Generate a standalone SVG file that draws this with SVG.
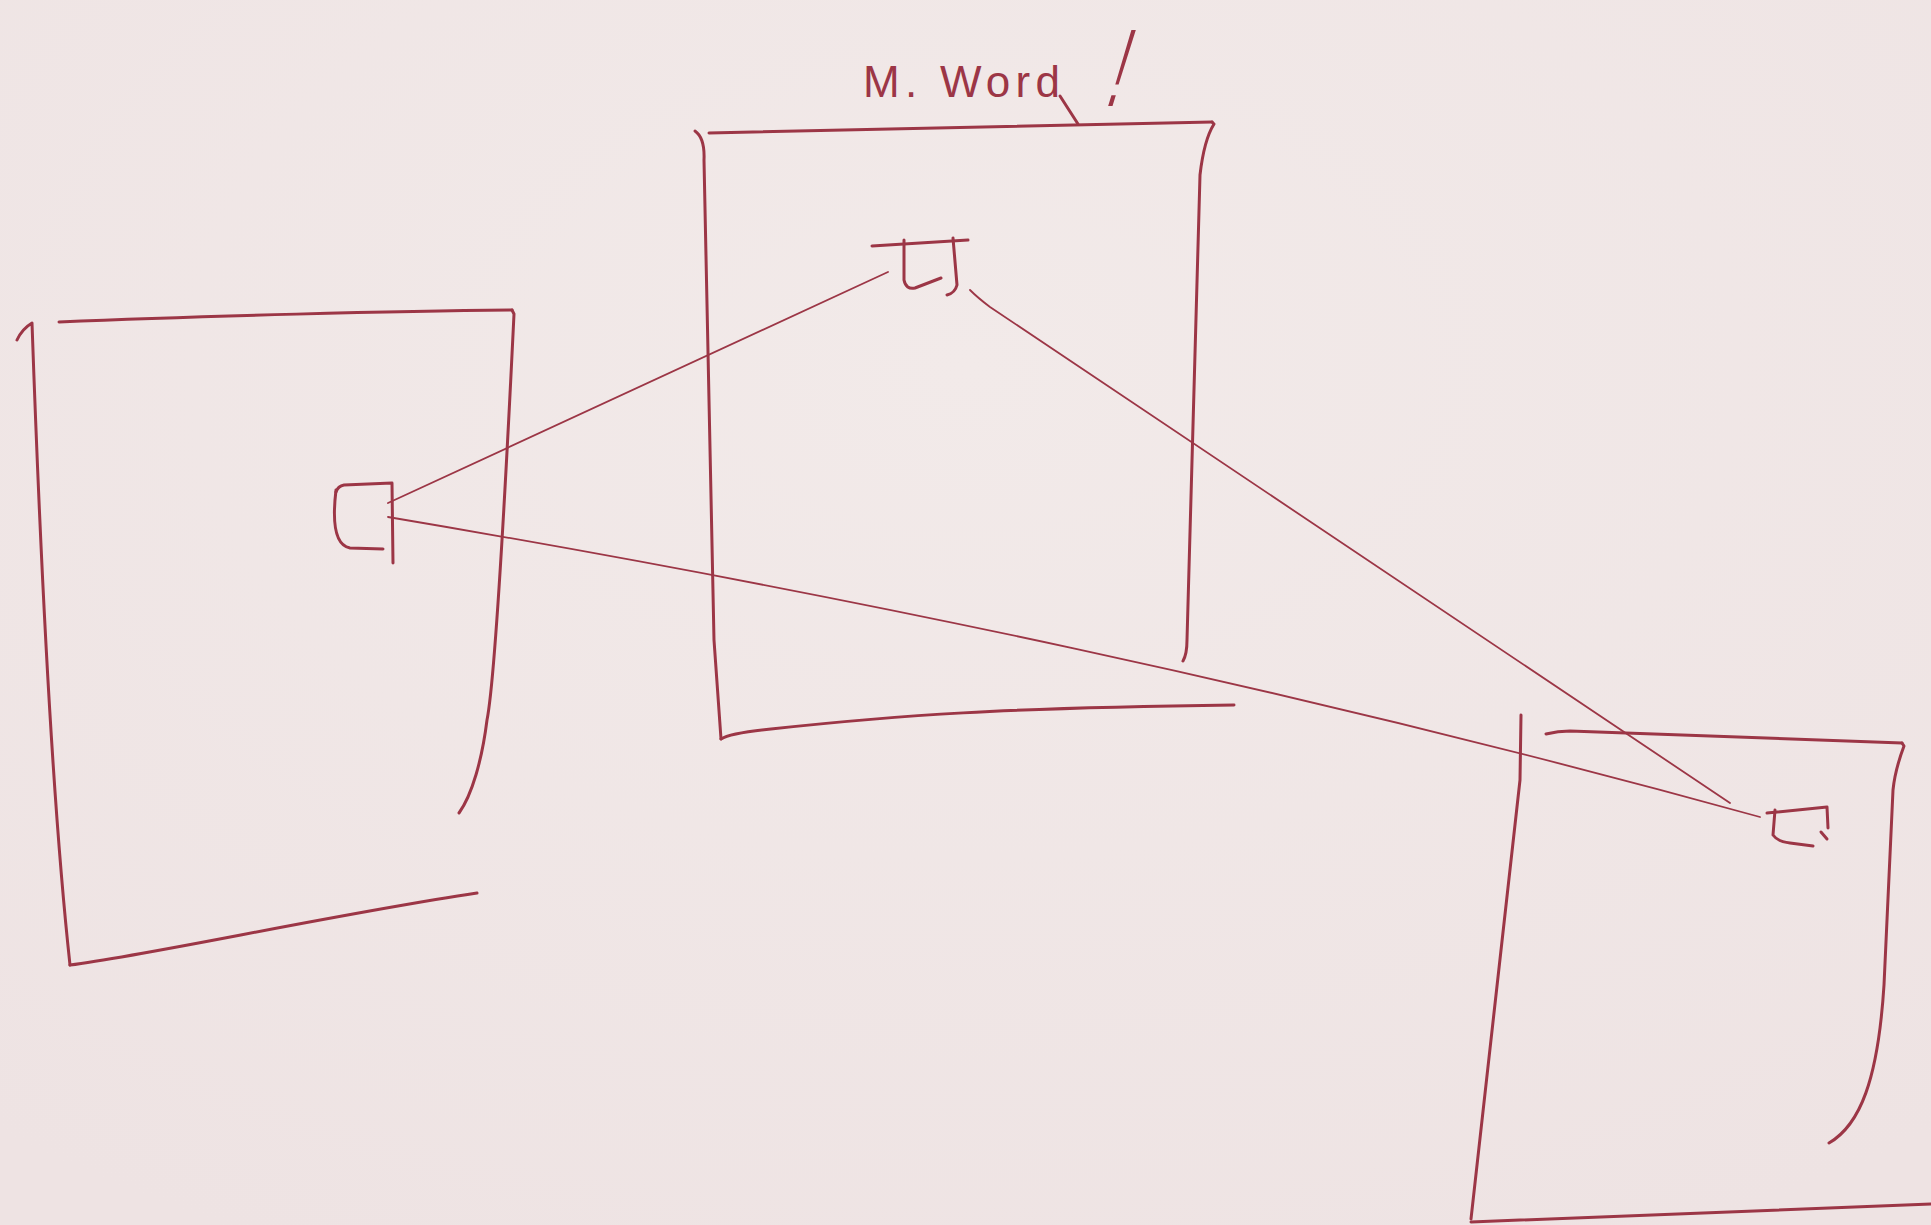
<svg xmlns="http://www.w3.org/2000/svg" width="1931" height="1225" viewBox="0 0 1931 1225">
<defs>
<radialGradient id="bg" cx="0.5" cy="0.3" r="0.8">
<stop offset="0" stop-color="#f2eae9"/>
<stop offset="1" stop-color="#eee3e3"/>
</radialGradient>
</defs>
<style>
.pen{fill:none;stroke:#9c3646;stroke-width:3;stroke-linecap:round;stroke-linejoin:round}
.thin{fill:none;stroke:#9c3646;stroke-width:1.8;stroke-linecap:round;stroke-linejoin:round}
.hand{fill:#9c3646;font-family:"Liberation Sans","DejaVu Sans",sans-serif}
</style>
<rect width="1931" height="1225" fill="url(#bg)"/>
<g id="label">
<text class="hand" x="863" y="97" font-size="44" textLength="197" lengthAdjust="spacing">M. Word</text>
<path class="pen" d="M1060,96 L1078,124"/>
<text class="hand" x="0" y="0" font-size="46" transform="translate(1104,106) skewX(-17) scale(1,2.4)">!</text>
</g>
<g id="box-left">
<path class="pen" d="M17,340 Q22,329 32,323 C40,550 52,800 70,965"/>
<path class="pen" d="M59,322 C200,316 400,311 512,310"/>
<path class="pen" d="M512,310 L514,314 C505,500 495,680 487,720 C482,760 472,795 459,813"/>
<path class="pen" d="M70,965 C150,955 330,915 477,893"/>
</g>
<g id="square-left">
<path class="pen" d="M336,492 Q338,486 344,485 L392,483 L393,563"/>
<path class="pen" d="M336,490 C333,515 333,545 350,548 L383,549"/>
</g>
<g id="box-middle">
<path class="pen" d="M695,131 Q705,138 704,160 L714,640 L721,739"/>
<path class="pen" d="M709,133 L1212,122"/>
<path class="pen" d="M1212,122 L1214,124 Q1204,140 1200,175 L1187,640 Q1187,654 1183,661"/>
<path class="pen" d="M721,739 Q730,733 771,729 C900,715 1000,708 1234,705"/>
</g>
<g id="square-middle">
<path class="pen" d="M872,246 L968,240"/>
<path class="pen" d="M904,240 L904,280 Q906,290 915,288 L941,278"/>
<path class="pen" d="M953,238 L957,285 Q955,293 947,295"/>
</g>
<g id="box-right">
<path class="pen" d="M1521,715 L1520,780 L1471,1219"/>
<path class="pen" d="M1546,734 Q1558,731 1570,731 L1902,743"/>
<path class="pen" d="M1902,743 L1904,746 Q1895,770 1893,790 L1884,985 C1878,1080 1860,1125 1829,1143"/>
<path class="pen" d="M1471,1222 L1931,1204"/>
</g>
<g id="square-right">
<path class="pen" d="M1767,813 L1827,807 L1828,828"/>
<path class="pen" d="M1775,810 L1773,835 Q1778,842 1790,843 L1813,846"/>
<path class="pen" d="M1821,832 L1827,839"/>
</g>
<g id="connectors">
<path class="thin" d="M388,503 L888,272"/>
<path class="thin" d="M388,517 C850,595 1300,690 1760,817"/>
<path class="thin" d="M970,290 Q978,298 990,307 L1730,803"/>
</g>
</svg>
